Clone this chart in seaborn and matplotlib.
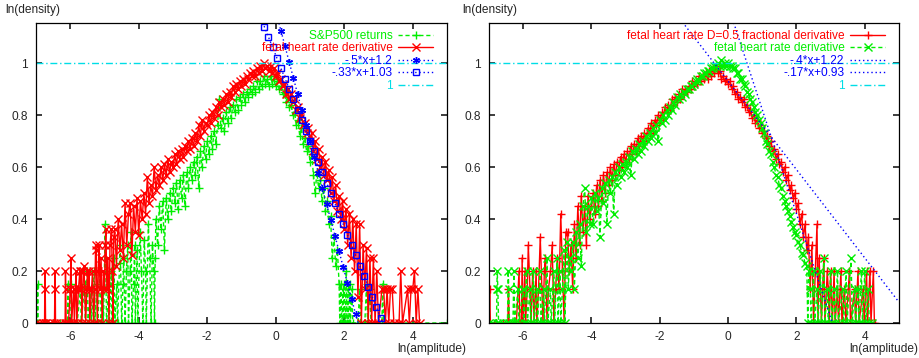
import numpy as np
import pandas as pd
import matplotlib
matplotlib.use("Agg")
import matplotlib.pyplot as plt
import seaborn as sns

# =====================================================
# DATA
# =====================================================

# left panel: S&P500 returns, (ln(amplitude), ln(density)) pairs
LEFT_SP500 = [
    (-7.0, 0), (-6.96, 0), (-6.95, 0.15), (-6.94, 0), (-6.7, 0), (-6.5, 0), (-6.3, 0), (-6.08, 0),
    (-6.07, 0.15), (-6.06, 0), (-5.98, 0), (-5.97, 0.15), (-5.96, 0), (-5.8, 0), (-5.7, 0.13), (-5.68, 0),
    (-5.58, 0.15), (-5.56, 0), (-5.5, 0.2), (-5.48, 0), (-5.4, 0.13), (-5.38, 0), (-5.3, 0.2), (-5.28, 0),
    (-5.22, 0.15), (-5.2, 0), (-5.12, 0.2), (-5.1, 0), (-5.05, 0.13), (-5.03, 0), (-4.98, 0.38),
    (-4.96, 0.2), (-4.94, 0), (-4.88, 0.15), (-4.86, 0), (-4.8, 0.2), (-4.78, 0), (-4.72, 0.25),
    (-4.7, 0), (-4.64, 0.15), (-4.62, 0), (-4.56, 0.23), (-4.54, 0.3), (-4.5, 0), (-4.46, 0.15),
    (-4.44, 0.25), (-4.4, 0), (-4.36, 0.2), (-4.32, 0.3), (-4.3, 0), (-4.25, 0.2), (-4.22, 0.35),
    (-4.2, 0), (-4.15, 0.15), (-4.12, 0.3), (-4.1, 0), (-4.05, 0.28), (-4.03, 0), (-3.96, 0.35),
    (-3.92, 0.2), (-3.88, 0), (-3.84, 0.32), (-3.8, 0.2), (-3.78, 0), (-3.72, 0.38), (-3.68, 0.25),
    (-3.64, 0), (-3.6, 0.3), (-3.56, 0.2), (-3.54, 0), (-3.52, 0.25), (-3.5, 0.4), (-3.45, 0.3),
    (-3.4, 0.45), (-3.35, 0.36), (-3.3, 0.47), (-3.25, 0.28), (-3.2, 0.48), (-3.15, 0.4), (-3.1, 0.5),
    (-3.05, 0.43), (-3.0, 0.52), (-2.95, 0.46), (-2.9, 0.54), (-2.85, 0.44), (-2.8, 0.55), (-2.75, 0.48),
    (-2.7, 0.57), (-2.65, 0.45), (-2.6, 0.58), (-2.55, 0.52), (-2.5, 0.6), (-2.45, 0.55), (-2.4, 0.62),
    (-2.35, 0.57), (-2.3, 0.64), (-2.25, 0.52), (-2.2, 0.66), (-2.15, 0.6), (-2.1, 0.68), (-2.05, 0.63),
    (-2.0, 0.7), (-1.95, 0.65), (-1.9, 0.72), (-1.85, 0.67), (-1.8, 0.74), (-1.75, 0.69), (-1.7, 0.76),
    (-1.65, 0.86), (-1.6, 0.75), (-1.55, 0.79), (-1.5, 0.74), (-1.45, 0.81), (-1.4, 0.77), (-1.35, 0.83),
    (-1.3, 0.79), (-1.25, 0.84), (-1.2, 0.81), (-1.15, 0.86), (-1.1, 0.82), (-1.05, 0.87), (-1.0, 0.84),
    (-0.95, 0.88), (-0.9, 0.85), (-0.85, 0.89), (-0.8, 0.87), (-0.75, 0.9), (-0.7, 0.88), (-0.65, 0.91),
    (-0.6, 0.89), (-0.55, 0.93), (-0.5, 0.9), (-0.45, 0.93), (-0.4, 0.91), (-0.35, 0.95), (-0.3, 0.92),
    (-0.25, 0.94), (-0.2, 0.91), (-0.15, 0.95), (-0.1, 0.92), (-0.05, 0.94), (0.0, 0.91), (0.05, 0.93),
    (0.1, 0.9), (0.15, 0.91), (0.2, 0.88), (0.25, 0.89), (0.3, 0.85), (0.35, 0.87), (0.4, 0.83),
    (0.45, 0.84), (0.5, 0.8), (0.55, 0.81), (0.6, 0.76), (0.65, 0.78), (0.7, 0.72), (0.75, 0.75),
    (0.8, 0.69), (0.85, 0.71), (0.9, 0.66), (0.95, 0.68), (1.0, 0.62), (1.05, 0.65), (1.1, 0.57),
    (1.15, 0.5), (1.2, 0.58), (1.25, 0.52), (1.3, 0.55), (1.35, 0.47), (1.4, 0.52), (1.45, 0.43),
    (1.5, 0.47), (1.55, 0.38), (1.6, 0.41), (1.65, 0.25), (1.7, 0.33), (1.75, 0.22), (1.8, 0.28),
    (1.85, 0.15), (1.87, 0), (1.9, 0.15), (1.93, 0), (1.96, 0.13), (1.98, 0), (2.0, 0.15), (2.03, 0),
    (2.06, 0.2), (2.08, 0), (2.1, 0.13), (2.13, 0), (2.16, 0.15), (2.18, 0), (2.22, 0.13), (2.25, 0),
    (2.4, 0), (2.45, 0.13), (2.48, 0), (2.6, 0), (2.65, 0.15), (2.68, 0), (2.75, 0.13), (2.78, 0),
    (3.1, 0), (3.12, 0.15), (3.15, 0), (5.0, 0),
]

# left panel: fetal heart rate derivative
LEFT_FHR = [
    (-7.0, 0), (-6.9, 0), (-6.8, 0), (-6.75, 0), (-6.74, 0.2), (-6.73, 0.13), (-6.72, 0), (-6.6, 0),
    (-6.46, 0), (-6.45, 0.13), (-6.44, 0.2), (-6.43, 0), (-6.3, 0), (-6.15, 0), (-6.14, 0.2),
    (-6.13, 0.13), (-6.12, 0), (-6.05, 0), (-6.0, 0.13), (-5.98, 0.25), (-5.96, 0), (-5.9, 0.13),
    (-5.88, 0), (-5.85, 0.13), (-5.83, 0.2), (-5.81, 0), (-5.76, 0.13), (-5.72, 0.2), (-5.7, 0.13),
    (-5.68, 0.2), (-5.66, 0), (-5.62, 0.2), (-5.6, 0.22), (-5.58, 0.13), (-5.55, 0), (-5.5, 0.2),
    (-5.47, 0.13), (-5.45, 0.2), (-5.43, 0), (-5.38, 0.13), (-5.35, 0.2), (-5.32, 0), (-5.28, 0.13),
    (-5.26, 0.3), (-5.24, 0.28), (-5.21, 0), (-5.18, 0.2), (-5.16, 0.3), (-5.13, 0.13), (-5.1, 0.25),
    (-5.07, 0), (-5.03, 0.2), (-5.0, 0.13), (-4.98, 0.3), (-4.96, 0.36), (-4.93, 0.13), (-4.9, 0.25),
    (-4.87, 0), (-4.84, 0.3), (-4.8, 0.36), (-4.77, 0.2), (-4.75, 0), (-4.73, 0.33),
    (-4.7, 0.36), (-4.65, 0.22), (-4.6, 0.4), (-4.55, 0.28), (-4.5, 0.38), (-4.45, 0.25), (-4.4, 0.46),
    (-4.35, 0.3), (-4.3, 0.42), (-4.25, 0.46), (-4.2, 0.26), (-4.15, 0.45), (-4.1, 0.35), (-4.05, 0.48),
    (-4.0, 0.34), (-3.95, 0.47), (-3.9, 0.4), (-3.85, 0.5), (-3.8, 0.42), (-3.75, 0.56), (-3.7, 0.46),
    (-3.65, 0.53), (-3.6, 0.49), (-3.55, 0.6), (-3.5, 0.51), (-3.45, 0.57), (-3.4, 0.53), (-3.35, 0.6),
    (-3.3, 0.55), (-3.25, 0.61), (-3.2, 0.57), (-3.15, 0.63), (-3.1, 0.58), (-3.05, 0.62), (-3.0, 0.6),
    (-2.95, 0.65), (-2.9, 0.61), (-2.85, 0.66), (-2.8, 0.63), (-2.75, 0.67), (-2.7, 0.64), (-2.65, 0.68),
    (-2.6, 0.66), (-2.55, 0.7), (-2.5, 0.67), (-2.45, 0.71), (-2.4, 0.68), (-2.35, 0.73), (-2.3, 0.7),
    (-2.25, 0.76), (-2.2, 0.72), (-2.15, 0.78), (-2.1, 0.74), (-2.05, 0.77), (-2.0, 0.76), (-1.95, 0.8),
    (-1.9, 0.77), (-1.85, 0.81), (-1.8, 0.79), (-1.75, 0.83), (-1.7, 0.8), (-1.65, 0.85), (-1.6, 0.83),
    (-1.55, 0.86), (-1.5, 0.84), (-1.45, 0.88), (-1.4, 0.85), (-1.35, 0.89), (-1.3, 0.87), (-1.25, 0.91),
    (-1.2, 0.89), (-1.15, 0.92), (-1.1, 0.9), (-1.05, 0.93), (-1.0, 0.91), (-0.95, 0.94), (-0.9, 0.92),
    (-0.85, 0.95), (-0.8, 0.94), (-0.75, 0.96), (-0.7, 0.95), (-0.65, 0.97), (-0.6, 0.95), (-0.55, 0.98),
    (-0.5, 0.96), (-0.45, 0.99), (-0.4, 0.97), (-0.35, 1.0), (-0.3, 0.98), (-0.25, 0.99), (-0.2, 0.97),
    (-0.15, 0.99), (-0.1, 0.96), (-0.05, 0.98), (0.0, 0.95), (0.05, 0.96), (0.1, 0.93), (0.15, 0.94),
    (0.2, 0.91), (0.25, 0.92), (0.3, 0.88), (0.35, 0.9), (0.4, 0.86), (0.45, 0.88), (0.5, 0.85),
    (0.55, 0.86), (0.6, 0.82), (0.65, 0.83), (0.7, 0.79), (0.75, 0.8), (0.8, 0.76), (0.85, 0.77),
    (0.9, 0.73), (0.95, 0.75), (1.0, 0.7), (1.05, 0.73), (1.1, 0.66), (1.15, 0.7), (1.2, 0.63),
    (1.25, 0.67), (1.3, 0.6), (1.35, 0.64), (1.4, 0.57), (1.45, 0.62), (1.5, 0.55), (1.55, 0.59),
    (1.6, 0.5), (1.65, 0.56), (1.7, 0.47), (1.75, 0.53), (1.8, 0.43), (1.85, 0.49), (1.9, 0.4),
    (1.95, 0.47), (2.0, 0.36), (2.05, 0.44), (2.1, 0.3), (2.15, 0.42), (2.2, 0.25), (2.25, 0.4),
    (2.3, 0.2), (2.35, 0.38), (2.4, 0.1), (2.45, 0.38), (2.5, 0), (2.55, 0.3), (2.6, 0.13), (2.65, 0.29),
    (2.7, 0), (2.75, 0.25), (2.8, 0), (2.85, 0.25), (2.9, 0), (2.95, 0.2), (3.0, 0), (3.1, 0.13),
    (3.15, 0.13), (3.2, 0), (3.25, 0.13), (3.3, 0), (3.35, 0.13), (3.4, 0.13), (3.45, 0), (3.6, 0),
    (3.65, 0.2), (3.7, 0), (3.85, 0.13), (3.9, 0), (3.95, 0.13), (4.0, 0.13), (4.05, 0.2), (4.1, 0),
    (4.15, 0.13), (4.2, 0),
]

# right panel: fetal heart rate D=0.5 fractional derivative
RIGHT_FRAC = [
    (-7.0, 0), (-6.98, 0.13), (-6.96, 0), (-6.8, 0), (-6.6, 0), (-6.45, 0), (-6.43, 0.13), (-6.41, 0),
    (-6.2, 0), (-6.12, 0.2), (-6.1, 0), (-6.05, 0), (-6.03, 0.25), (-6.0, 0), (-5.95, 0.2), (-5.93, 0),
    (-5.88, 0.13), (-5.85, 0.3), (-5.8, 0.13), (-5.77, 0), (-5.72, 0.2), (-5.68, 0), (-5.62, 0.2),
    (-5.6, 0), (-5.55, 0.13), (-5.5, 0.33), (-5.45, 0.13), (-5.42, 0), (-5.38, 0.2), (-5.35, 0.25),
    (-5.3, 0), (-5.26, 0.13), (-5.2, 0.2), (-5.15, 0.3), (-5.1, 0), (-5.05, 0.13), (-5.0, 0.25),
    (-4.95, 0.13), (-4.9, 0.42), (-4.85, 0.2), (-4.8, 0), (-4.75, 0.35),
    (-4.7, 0.35), (-4.65, 0.2), (-4.6, 0.3), (-4.55, 0.13), (-4.5, 0.38), (-4.45, 0.25), (-4.4, 0.45),
    (-4.35, 0.3), (-4.3, 0.49), (-4.25, 0.35), (-4.2, 0.45), (-4.15, 0.3), (-4.1, 0.49), (-4.05, 0.4),
    (-4.0, 0.45), (-3.95, 0.5), (-3.9, 0.42), (-3.85, 0.53), (-3.8, 0.45), (-3.75, 0.55), (-3.7, 0.47),
    (-3.65, 0.57), (-3.6, 0.5), (-3.55, 0.58), (-3.5, 0.53), (-3.45, 0.6), (-3.4, 0.55), (-3.35, 0.61),
    (-3.3, 0.57), (-3.25, 0.62), (-3.2, 0.59), (-3.15, 0.64), (-3.1, 0.6), (-3.05, 0.65), (-3.0, 0.62),
    (-2.95, 0.66), (-2.9, 0.63), (-2.85, 0.68), (-2.8, 0.65), (-2.75, 0.69), (-2.7, 0.66), (-2.65, 0.71),
    (-2.6, 0.68), (-2.55, 0.72), (-2.5, 0.7), (-2.45, 0.73), (-2.4, 0.71), (-2.35, 0.75), (-2.3, 0.73),
    (-2.25, 0.77), (-2.2, 0.74), (-2.15, 0.78), (-2.1, 0.76), (-2.05, 0.8), (-2.0, 0.78), (-1.95, 0.81),
    (-1.9, 0.79), (-1.85, 0.83), (-1.8, 0.81), (-1.75, 0.84), (-1.7, 0.82), (-1.65, 0.86), (-1.6, 0.84),
    (-1.55, 0.87), (-1.5, 0.85), (-1.45, 0.88), (-1.4, 0.86), (-1.35, 0.9), (-1.3, 0.88), (-1.25, 0.9),
    (-1.2, 0.89), (-1.15, 0.91), (-1.1, 0.9), (-1.05, 0.93), (-1.0, 0.91), (-0.95, 0.93), (-0.9, 0.92),
    (-0.85, 0.95), (-0.8, 0.93), (-0.75, 0.95), (-0.7, 0.94), (-0.65, 0.96), (-0.6, 0.94), (-0.55, 0.97),
    (-0.5, 0.95), (-0.45, 0.98), (-0.4, 0.96), (-0.35, 0.99), (-0.3, 0.96), (-0.25, 0.97), (-0.2, 0.94),
    (-0.15, 0.95), (-0.1, 0.93), (-0.05, 0.94), (0.0, 0.92), (0.05, 0.93), (0.1, 0.9), (0.15, 0.91),
    (0.2, 0.88), (0.25, 0.89), (0.3, 0.86), (0.35, 0.87), (0.4, 0.85), (0.45, 0.86), (0.5, 0.83),
    (0.55, 0.84), (0.6, 0.81), (0.65, 0.82), (0.7, 0.79), (0.75, 0.8), (0.8, 0.77), (0.85, 0.78),
    (0.9, 0.75), (0.95, 0.76), (1.0, 0.73), (1.05, 0.74), (1.1, 0.71), (1.15, 0.72), (1.2, 0.68),
    (1.25, 0.7), (1.3, 0.66), (1.35, 0.67), (1.4, 0.63), (1.45, 0.65), (1.5, 0.61), (1.55, 0.62),
    (1.6, 0.58), (1.65, 0.6), (1.7, 0.55), (1.75, 0.57), (1.8, 0.51), (1.85, 0.53), (1.9, 0.48),
    (1.95, 0.5), (2.0, 0.44), (2.05, 0.46), (2.1, 0.38), (2.15, 0.42), (2.2, 0.33), (2.25, 0.38),
    (2.3, 0.28), (2.35, 0.33), (2.4, 0.13), (2.45, 0.3), (2.5, 0), (2.55, 0.2), (2.6, 0.38), (2.63, 0),
    (2.66, 0.25), (2.7, 0.13), (2.73, 0), (2.8, 0.25), (2.83, 0), (2.9, 0.2), (2.93, 0.13), (2.96, 0),
    (3.0, 0.2), (3.05, 0), (3.1, 0.2), (3.13, 0), (3.2, 0.13), (3.23, 0), (3.3, 0.2), (3.33, 0),
    (3.4, 0.13), (3.45, 0), (3.55, 0.2), (3.58, 0), (3.7, 0.13), (3.73, 0), (3.8, 0.2), (3.83, 0),
    (3.95, 0.13), (3.98, 0), (4.05, 0.2), (4.08, 0), (4.15, 0.2), (4.18, 0), (4.25, 0.2), (4.28, 0),
    (4.3, 0),
]

# right panel: fetal heart rate derivative
RIGHT_FHR = [
    (-7.0, 0), (-6.9, 0), (-6.78, 0), (-6.77, 0.13), (-6.76, 0.2), (-6.74, 0.13), (-6.72, 0), (-6.6, 0),
    (-6.46, 0), (-6.44, 0.2), (-6.42, 0.13), (-6.4, 0), (-6.3, 0), (-6.27, 0.2), (-6.25, 0),
    (-6.15, 0.13), (-6.13, 0), (-6.0, 0.13), (-5.98, 0), (-5.9, 0.2), (-5.88, 0), (-5.8, 0.13),
    (-5.78, 0), (-5.7, 0.2), (-5.68, 0), (-5.6, 0.13), (-5.58, 0), (-5.5, 0.2), (-5.48, 0), (-5.4, 0.13),
    (-5.38, 0), (-5.3, 0.25), (-5.28, 0), (-5.2, 0.13), (-5.18, 0), (-5.1, 0.2), (-5.08, 0), (-5.0, 0.25),
    (-4.98, 0), (-4.92, 0.2), (-4.9, 0), (-4.85, 0.13), (-4.8, 0.28), (-4.78, 0), (-4.72, 0.31),
    (-4.68, 0.13), (-4.64, 0.25), (-4.6, 0.2), (-4.55, 0.31), (-4.5, 0.13),
    (-4.45, 0.35), (-4.4, 0.25), (-4.35, 0.38), (-4.3, 0.22), (-4.25, 0.45), (-4.2, 0.52), (-4.15, 0.35),
    (-4.1, 0.45), (-4.05, 0.38), (-4.0, 0.48), (-3.95, 0.38), (-3.9, 0.5), (-3.85, 0.43), (-3.8, 0.48),
    (-3.75, 0.33), (-3.7, 0.52), (-3.65, 0.46), (-3.6, 0.54), (-3.55, 0.38), (-3.5, 0.55), (-3.45, 0.5),
    (-3.4, 0.56), (-3.35, 0.42), (-3.3, 0.58), (-3.25, 0.53), (-3.2, 0.6), (-3.15, 0.56), (-3.1, 0.61),
    (-3.05, 0.58), (-3.0, 0.62), (-2.95, 0.6), (-2.9, 0.64), (-2.85, 0.57), (-2.8, 0.66), (-2.75, 0.63),
    (-2.7, 0.67), (-2.65, 0.65), (-2.6, 0.69), (-2.55, 0.66), (-2.5, 0.7), (-2.45, 0.68), (-2.4, 0.72),
    (-2.35, 0.7), (-2.3, 0.73), (-2.25, 0.71), (-2.2, 0.75), (-2.15, 0.73), (-2.1, 0.76), (-2.05, 0.7),
    (-2.0, 0.78), (-1.95, 0.77), (-1.9, 0.8), (-1.85, 0.78), (-1.8, 0.82), (-1.75, 0.8), (-1.7, 0.83),
    (-1.65, 0.82), (-1.6, 0.85), (-1.55, 0.84), (-1.5, 0.87), (-1.45, 0.86), (-1.4, 0.88), (-1.35, 0.87),
    (-1.3, 0.89), (-1.25, 0.88), (-1.2, 0.9), (-1.15, 0.9), (-1.1, 0.91), (-1.05, 0.91), (-1.0, 0.92),
    (-0.95, 0.93), (-0.9, 0.94), (-0.85, 0.93), (-0.8, 0.95), (-0.75, 0.95), (-0.7, 0.96), (-0.65, 0.96),
    (-0.6, 0.97), (-0.55, 0.97), (-0.5, 0.98), (-0.45, 0.98), (-0.4, 0.99), (-0.35, 0.99), (-0.3, 1.0),
    (-0.25, 0.99), (-0.2, 1.01), (-0.15, 0.99), (-0.1, 1.0), (-0.05, 0.99), (0.0, 1.0), (0.05, 0.99),
    (0.1, 0.99), (0.15, 0.98), (0.2, 0.98), (0.25, 0.96), (0.3, 0.96), (0.35, 0.94), (0.4, 0.94),
    (0.45, 0.92), (0.5, 0.91), (0.55, 0.89), (0.6, 0.88), (0.65, 0.86), (0.7, 0.85), (0.75, 0.83),
    (0.8, 0.81), (0.85, 0.8), (0.9, 0.78), (0.95, 0.77), (1.0, 0.75), (1.05, 0.73), (1.1, 0.7),
    (1.15, 0.69), (1.2, 0.66), (1.25, 0.65), (1.3, 0.62), (1.35, 0.6), (1.4, 0.57), (1.45, 0.56),
    (1.5, 0.53), (1.55, 0.52), (1.6, 0.49), (1.65, 0.47), (1.7, 0.45), (1.75, 0.43), (1.8, 0.41),
    (1.85, 0.39), (1.9, 0.37), (1.95, 0.35), (2.0, 0.34), (2.05, 0.31), (2.1, 0.3), (2.15, 0.27),
    (2.2, 0.26), (2.25, 0.23), (2.3, 0.22), (2.33, 0), (2.36, 0.2), (2.4, 0.13), (2.43, 0), (2.5, 0.2),
    (2.53, 0), (2.6, 0.13), (2.63, 0), (2.7, 0.2), (2.73, 0), (2.8, 0.25), (2.83, 0), (2.9, 0.13),
    (2.93, 0), (3.0, 0.2), (3.03, 0), (3.1, 0.13), (3.13, 0), (3.2, 0.2), (3.23, 0), (3.35, 0.13),
    (3.38, 0), (3.45, 0.2), (3.48, 0), (3.6, 0.25), (3.63, 0), (3.7, 0.13), (3.73, 0), (3.8, 0.13),
    (3.83, 0), (3.9, 0.2), (3.93, 0), (4.0, 0.2), (4.03, 0), (4.1, 0.13), (4.13, 0), (4.2, 0),
]

# reference lines (slope, intercept), as written in the legends
LEFT_LINES = [(-0.5, 1.2), (-0.33, 1.03)]
RIGHT_LINES = [(-0.4, 1.22), (-0.17, 0.93)]
LEVEL = 1.0

X_TICKS = [-6, -4, -2, 0, 2, 4]
X_TICK_LABELS = ["-6", "-4", "-2", "0", "2", "4"]
Y_TICKS = [0, 0.2, 0.4, 0.6, 0.8, 1]
Y_TICK_LABELS = ["0", "0.2", "0.4", "0.6", "0.8", "1"]

# =====================================================
# STYLE
# =====================================================

sns.set_theme(style="ticks")
plt.rcParams.update({
    "font.family": ["Liberation Sans", "DejaVu Sans"],
    "font.size": 8.6,
    "xtick.direction": "in",
    "ytick.direction": "in",
    "xtick.top": True,
    "ytick.right": True,
    "xtick.major.size": 4,
    "ytick.major.size": 4,
    "axes.linewidth": 0.9,
    "axes.edgecolor": "black",
})

RED = "#ff0000"
GREEN = "#00ee00"
BLUE = "#0000ff"
CYAN = "#00dde6"
FS = 8.6

# gnuplot samples functions at 100 points over the x range
fx = np.linspace(-7, 5, 100)


def data_line(ax, pairs, color, marker, ls, label):
    df = pd.DataFrame(pairs, columns=["x", "y"])
    sns.lineplot(data=df, x="x", y="y", sort=False, estimator=None, ax=ax,
                 color=color, lw=1.0, linestyle=ls, marker=marker, markersize=5.5,
                 markeredgecolor=color, markeredgewidth=1.0, label=label)


def fit_line(ax, coef, color, marker, ls, label):
    slope, icpt = coef
    df = pd.DataFrame({"x": fx, "y": slope * fx + icpt})
    kw = {}
    if marker is not None:
        kw = dict(marker=marker, markersize=5, markeredgecolor=color,
                  markeredgewidth=1.0, markerfacecolor="none")
    sns.lineplot(data=df, x="x", y="y", sort=False, estimator=None, ax=ax,
                 color=color, lw=1.0, linestyle=ls, label=label, **kw)


def style_axes(ax):
    ax.set_xlim(-7, 5)
    ax.set_ylim(0, 1.154)
    ax.set_xticks(X_TICKS, X_TICK_LABELS)
    ax.set_yticks(Y_TICKS, Y_TICK_LABELS)
    ax.tick_params(axis="x", pad=6, labelsize=FS)
    ax.tick_params(axis="y", pad=6, labelsize=FS)
    ax.set_xlabel("")
    ax.set_ylabel("")


def add_legend(ax, width_px):
    ax.legend(loc="upper right", bbox_to_anchor=(1 - 14 / width_px, 1 - 7 / 300),
              frameon=False, markerfirst=False, handlelength=2.9,
              handletextpad=0.5, labelspacing=0.04, borderpad=0,
              borderaxespad=0, fontsize=FS, labelcolor="linecolor")


fig = plt.figure(figsize=(9.2, 3.58), dpi=100)
ax1 = fig.add_axes([36 / 920, 35 / 358, 411 / 920, 300 / 358])
ax2 = fig.add_axes([489 / 920, 35 / 358, 410 / 920, 300 / 358])

# ---- left panel
data_line(ax1, LEFT_SP500, GREEN, "+", (0, (3, 2)), "S&P500 returns")
data_line(ax1, LEFT_FHR, RED, "x", "-", "fetal heart rate derivative")
fit_line(ax1, LEFT_LINES[0], BLUE, (6, 2, 0), (0, (1, 2)), "-.5*x+1.2")
fit_line(ax1, LEFT_LINES[1], BLUE, "s", (0, (1, 2)), "-.33*x+1.03")
fit_line(ax1, (0.0, LEVEL), CYAN, None, (0, (5, 2, 1, 2)), "1")
style_axes(ax1)
add_legend(ax1, 411)

# ---- right panel
data_line(ax2, RIGHT_FRAC, RED, "+", "-", "fetal heart rate D=0.5 fractional derivative")
data_line(ax2, RIGHT_FHR, GREEN, "x", (0, (3, 2)), "fetal heart rate derivative")
fit_line(ax2, RIGHT_LINES[0], BLUE, None, (0, (1, 2)), "-.4*x+1.22")
fit_line(ax2, RIGHT_LINES[1], BLUE, None, (0, (1, 2)), "-.17*x+0.93")
fit_line(ax2, (0.0, LEVEL), CYAN, None, (0, (5, 2, 1, 2)), "1")
style_axes(ax2)
add_legend(ax2, 410)

# axis titles, placed as gnuplot does
fig.text(5 / 920, 1 - 10 / 358, "ln(density)", va="center", ha="left", fontsize=FS)
fig.text(462 / 920, 1 - 10 / 358, "ln(density)", va="center", ha="left", fontsize=FS)
fig.text(466 / 920, 1 - 349 / 358, "ln(amplitude)", va="center", ha="right", fontsize=FS)
fig.text(918 / 920, 1 - 349 / 358, "ln(amplitude)", va="center", ha="right", fontsize=FS)

fig.savefig("out.png", dpi=100)
